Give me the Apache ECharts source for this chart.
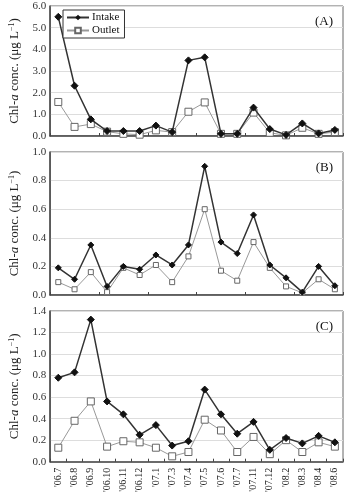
<!DOCTYPE html>
<html><head><meta charset="utf-8">
<style>html,body{margin:0;padding:0;background:#fff}#c{width:350px;height:495px}</style>
<script src="https://cdn.jsdelivr.net/npm/echarts@6/dist/echarts.min.js"></script>
</head><body><div id="c"></div>
<script>
const categories = ["'06.7","'06.8","'06.9","'06.10","'06.11","'06.12","'07.1","'07.3","'07.4","'07.5","'07.6","'07.7","'07.11","'07.12","'08.2","'08.3","'08.4","'08.6"];
const intakeA = [5.5,2.32,0.77,0.23,0.23,0.23,0.48,0.18,3.49,3.63,0.1,0.1,1.31,0.32,0.05,0.58,0.12,0.28];
const outletA = [1.57,0.42,0.55,0.2,0.1,0.06,0.26,0.18,1.12,1.55,0.1,0.1,1.08,0.15,0.03,0.38,0.1,0.18];
const intakeB = [0.19,0.11,0.35,0.06,0.20,0.18,0.28,0.21,0.35,0.90,0.37,0.29,0.56,0.21,0.12,0.02,0.20,0.065];
const outletB = [0.09,0.04,0.16,0.02,0.19,0.14,0.21,0.09,0.27,0.60,0.17,0.10,0.37,0.19,0.06,0.015,0.11,0.04];
const intakeC = [0.78,0.83,1.32,0.56,0.44,0.25,0.34,0.15,0.19,0.67,0.44,0.26,0.37,0.11,0.22,0.17,0.24,0.18];
const outletC = [0.13,0.38,0.56,0.14,0.19,0.18,0.13,0.05,0.09,0.39,0.29,0.09,0.23,0.07,0.20,0.09,0.18,0.14];
const yMax = [6, 1, 1.4];
const yInterval = [1, 0.2, 0.2];
const panelLabels = ['(A)','(B)','(C)'];

const FONT = '"Liberation Serif","DejaVu Serif",serif';
const grids = [
  {left:40, top:6, width:303, height:130},
  {left:40, top:152, width:303, height:143},
  {left:40, top:311, width:303, height:154}
];
const intakes = [intakeA, intakeB, intakeC];
const outlets = [outletA, outletB, outletC];
const symSizes = [[7,7],[6,5],[7,7]];

const option = {
  animation:false,
  backgroundColor:'#fff',
  grid: grids.map(g => Object.assign({show:true, borderColor:'#666', borderWidth:1, backgroundColor:'transparent'}, g)),
  legend: {
    data:['Intake','Outlet'], orient:'vertical', left:63, top:10,
    itemWidth:22, itemHeight:7, itemGap:2, padding:[2,5,2,3],
    borderColor:'#333', borderWidth:1, backgroundColor:'#fff',
    textStyle:{fontFamily:FONT, fontSize:11, color:'#111', padding:[0,0,0,-2]}
  },
  title: panelLabels.map((t,i) => ({text:t, right:12, top:grids[i].top+4, textStyle:{fontFamily:FONT, fontSize:13, fontWeight:'normal', color:'#111'}})),
  xAxis: grids.map((g,i) => ({
    type:'category', gridIndex:i, data:categories, boundaryGap:true,
    axisLine:{lineStyle:{color:'#444', width:1.5}},
    axisTick:{show:true, inside:true, length:3, lineStyle:{color:'#444'}},
    axisLabel: i===2 ? {rotate:90, fontFamily:FONT, fontSize:10, color:'#222', margin:6, interval:0} : {show:false},
    splitLine:{show:false}
  })),
  yAxis: grids.map((g,i) => ({
    type:'value', gridIndex:i, min:0, max:yMax[i], interval:yInterval[i],
    axisLine:{show:true, lineStyle:{color:'#444', width:1.5}},
    axisTick:{show:false},
    axisLabel:{fontFamily:FONT, fontSize:11, color:'#333', margin:4, formatter:v=>v.toFixed(1)},
    splitLine:{show:true, lineStyle:{color:'#ddd', width:1}},
    name:'{n|Chl-}{i|a}{n| conc. (μg L}{s|−1}{n|)}',
    nameLocation:'middle', nameGap:25, nameRotate:90,
    nameTextStyle:{fontFamily:FONT, fontSize:13, color:'#222',
      rich:{n:{fontFamily:FONT,fontSize:13,color:'#222'}, i:{fontFamily:FONT,fontSize:13,fontStyle:'italic',color:'#222'}, s:{fontFamily:FONT,fontSize:8,color:'#222',verticalAlign:'top',padding:[0,0,6,0]}}}
  })),
  series: []
};
for (let i=0;i<3;i++){
  option.series.push({
    name:'Outlet', type:'line', xAxisIndex:i, yAxisIndex:i, data:outlets[i],
    symbol:'rect', symbolSize:symSizes[i][1], showAllSymbol:true,
    lineStyle:{color:'#999', width:1}, itemStyle:{color:'#fff', borderColor:'#666', borderWidth:1}, z:2
  });
  option.series.push({
    name:'Intake', type:'line', xAxisIndex:i, yAxisIndex:i, data:intakes[i],
    symbol:'diamond', symbolSize:symSizes[i][0], showAllSymbol:true,
    lineStyle:{color:'#333', width:1.5}, itemStyle:{color:'#111', borderColor:'#111'}, z:3
  });
}
echarts.init(document.getElementById('c')).setOption(option);
</script></body></html>
